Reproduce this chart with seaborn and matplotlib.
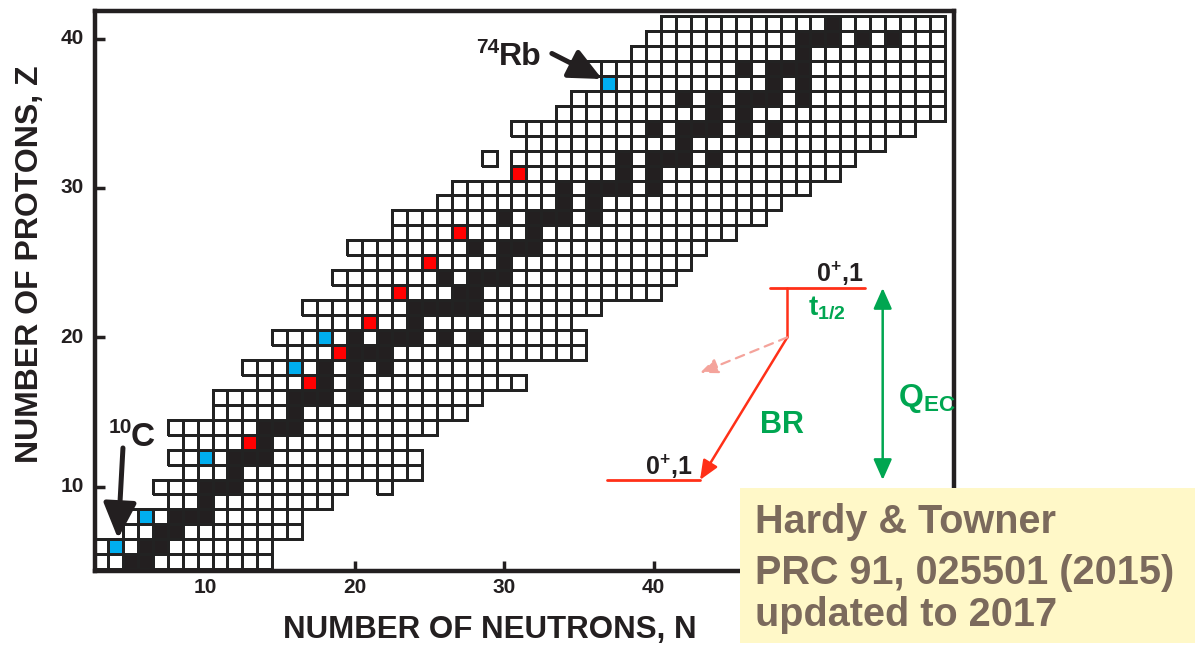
import numpy as np
import pandas as pd
import seaborn as sns
import matplotlib
matplotlib.use("Agg")
import matplotlib.pyplot as plt
from matplotlib.colors import ListedColormap, to_rgba
from matplotlib.patches import Rectangle, FancyArrowPatch

# ---------------- data ----------------
Z_values = list(range(5, 42))
N_first = [3, 3, 5, 5, 8, 7, 9, 8, 9, 8, 11, 11, 14, 13, 16, 15, 18, 17, 20, 19,
           21, 20, 23, 23, 26, 27, 31, 31, 32, 31, 34, 35, 37, 35, 39, 40, 41]
N_last = [14, 14, 16, 16, 18, 19, 24, 24, 23, 25, 27, 28, 31, 29, 35, 35, 34, 36, 40, 41,
          42, 43, 45, 47, 48, 50, 52, 53, 55, 57, 59, 59, 59, 59, 59, 59, 59]
extra_N = [22, 29]
extra_Z = [10, 32]

stable_N = {
    5: [5, 6], 6: [6, 7], 7: [7, 8], 8: [8, 9, 10], 9: [10], 10: [10, 11, 12],
    11: [12], 12: [12, 13, 14], 13: [14], 14: [14, 15, 16], 15: [16],
    16: [16, 17, 18, 20], 17: [18, 20], 18: [18, 20, 22], 19: [20, 21, 22],
    20: [20, 22, 23, 24, 26, 28], 21: [24], 22: [24, 25, 26, 27, 28], 23: [27, 28],
    24: [26, 28, 29, 30], 25: [30], 26: [28, 30, 31, 32], 27: [32],
    28: [30, 32, 33, 34, 36], 29: [34, 36], 30: [34, 36, 37, 38, 40], 31: [38, 40],
    32: [38, 40, 41, 42, 44], 33: [42], 34: [40, 42, 43, 44, 46, 48], 35: [44, 46],
    36: [42, 44, 46, 47, 48, 50], 37: [48, 50], 38: [46, 48, 49, 50], 39: [50],
    40: [50, 51, 52, 54, 56], 41: [52],
}
blue_N = [4, 6, 10, 16, 18, 37]
blue_Z = [6, 8, 12, 18, 20, 37]
red_N = [13, 17, 19, 21, 23, 25, 27, 31]
red_Z = [13, 17, 19, 21, 23, 25, 27, 31]

x_ticks = [10, 20, 30, 40]
y_ticks = [10, 20, 30, 40]
box_lines = ["Hardy & Towner", "PRC 91, 025501 (2015)", "updated to 2017"]

# ---------------- style ----------------
sns.set_theme(style="white")
plt.rcParams["font.family"] = ["Liberation Sans", "DejaVu Sans"]
plt.rcParams["mathtext.fontset"] = "custom"
for k in ["rm", "bf", "it", "sf"]:
    plt.rcParams["mathtext." + k] = "Liberation Sans:bold"
plt.rcParams["mathtext.default"] = "rm"

INK = "#231f20"
RED = "#ff3018"
GREEN = "#00a651"

# ---------------- grid ----------------
N_axis = np.arange(0, 61)
Z_axis = np.arange(0, 43)
M = np.full((len(Z_axis), len(N_axis)), np.nan)
for z, a, b in zip(Z_values, N_first, N_last):
    M[z, a:b + 1] = 0
for n, z in zip(extra_N, extra_Z):
    M[z, n] = 0
for z, ns in stable_N.items():
    for n in ns:
        M[z, n] = 1
for n, z in zip(blue_N, blue_Z):
    M[z, n] = 2
for n, z in zip(red_N, red_Z):
    M[z, n] = 3
df = pd.DataFrame(M, index=Z_axis, columns=N_axis)

cmap = ListedColormap(["#ffffff", INK, "#00aeef", "#ff0000"])

fig = plt.figure(figsize=(12.01, 6.46), dpi=100)
ax = fig.add_axes([95 / 1201, 1 - 571 / 646, (954 - 95) / 1201, (571 - 11) / 646])
sns.heatmap(df, mask=df.isna(), cmap=cmap, vmin=-0.5, vmax=3.5, cbar=False,
            linewidths=1.05, linecolor="#222222", ax=ax)
# draw cell borders only for existing nuclides
mesh = ax.collections[0]
valid = ~np.isnan(M)
ec = np.zeros((M.size, 4))
ec[valid.ravel()] = to_rgba("#222222")
mesh.set_edgecolor(ec)

# heatmap cell for N spans [N, N+1]
def P(n, z):
    return (n + 0.5, z + 0.5)

ax.set_xlim(2.64 + 0.5, 60.1 + 0.5)
ax.set_ylim(4.38 + 0.5, 41.84 + 0.5)
ax.set_xticks([t + 0.5 for t in x_ticks])
ax.set_xticklabels([str(t) for t in x_ticks], rotation=0, fontsize=15, fontweight="bold", color=INK)
ax.set_yticks([t + 0.5 for t in y_ticks])
ax.set_yticklabels([str(t) for t in y_ticks], rotation=0, fontsize=15, fontweight="bold", color=INK)
ax.tick_params(axis="both", direction="in", length=7, width=2.5, color=INK, pad=5,
               bottom=True, left=True, top=False, right=False)
ax.tick_params(axis="y", pad=8)
ax.set_xlabel("")
ax.set_ylabel("")
for s in ax.spines.values():
    s.set_visible(True)
    s.set_linewidth(3.2)
    s.set_color(INK)
    s.set_zorder(5)

# ---------------- labels ----------------
fig.text(490 / 1201, 1 - 630 / 646, "NUMBER OF NEUTRONS, N", ha="center", va="center",
         fontsize=22.5, fontweight="bold", color=INK)
fig.text(30 / 1201, 1 - 264 / 646, "NUMBER OF PROTONS, Z", ha="center", va="center",
         rotation=90, fontsize=23, fontweight="bold", color=INK)

# 10C annotation
ax.text(*P(4.31, 14.01), "10", ha="center", va="center", fontsize=15, fontweight="bold", color=INK)
ax.text(*P(5.85, 13.34), "C", ha="center", va="center", fontsize=24, fontweight="bold", color=INK)
ax.add_patch(FancyArrowPatch(P(4.51, 12.61), P(4.18, 6.55),
                             arrowstyle="-|>,head_length=0.9,head_width=0.42",
                             mutation_scale=24, lw=3.6, color=INK, zorder=6,
                             shrinkA=0, shrinkB=0))
# 74Rb annotation
ax.text(*P(28.93, 39.43), "74", ha="center", va="center", fontsize=15, fontweight="bold", color=INK)
ax.text(*P(31.1, 38.76), "Rb", ha="center", va="center", fontsize=23, fontweight="bold", color=INK)
ax.add_patch(FancyArrowPatch(P(33.2, 39.0), P(36.56, 37.29),
                             arrowstyle="-|>,head_length=0.9,head_width=0.42",
                             mutation_scale=22, lw=3.6, color=INK, zorder=6,
                             shrinkA=0, shrinkB=0))

# ---------------- decay scheme ----------------
ax.plot([P(47.79, 0)[0], P(54.15, 0)[0]], [P(0, 23.29)[1]] * 2, color=RED, lw=2.0, zorder=6)
ax.plot([P(48.95, 0)[0]] * 2, [P(0, 23.29)[1], P(0, 20.01)[1]], color=RED, lw=1.8, zorder=6)
ax.plot([P(36.87, 0)[0], P(43.11, 0)[0]], [P(0, 10.47)[1]] * 2, color=RED, lw=2.0, zorder=6)
ax.add_patch(FancyArrowPatch(P(48.95, 20.01), P(43.11, 10.47),
                             arrowstyle="-|>,head_length=0.9,head_width=0.38",
                             mutation_scale=13, lw=1.8, color=RED, zorder=6,
                             shrinkA=0, shrinkB=0))
ax.add_patch(FancyArrowPatch(P(48.95, 20.01), P(43.11, 17.63),
                             arrowstyle="-|>,head_length=0.9,head_width=0.38",
                             mutation_scale=12, lw=1.6, color="#f4a39b", ls=(0, (4, 3)),
                             zorder=6, shrinkA=0, shrinkB=0))
ax.add_patch(FancyArrowPatch(P(55.33, 23.31), P(55.33, 10.47),
                             arrowstyle="<|-|>,head_length=0.9,head_width=0.4",
                             mutation_scale=14, lw=1.8, color=GREEN, zorder=6,
                             shrinkA=0, shrinkB=0))
ax.text(*P(54.0, 24.25), r"0$^{+}$,1", ha="right", va="center", fontsize=18,
        fontweight="bold", color=INK, zorder=7)
ax.text(*P(42.57, 11.34), r"0$^{+}$,1", ha="right", va="center", fontsize=18,
        fontweight="bold", color=INK, zorder=7)
ax.text(*P(50.33, 21.97), r"t$_{1/2}$", ha="left", va="center", fontsize=20,
        fontweight="bold", color=GREEN, zorder=7)
ax.text(*P(48.6, 14.15), "BR", ha="center", va="center", fontsize=22, fontweight="bold",
        color=GREEN, zorder=7)
ax.text(*P(56.35, 15.95), r"Q$_{EC}$", ha="left", va="center", fontsize=23,
        fontweight="bold", color=GREEN, zorder=7)

# ---------------- reference box ----------------
fig.add_artist(Rectangle((740 / 1201, 1 - 643 / 646), (1195 - 740) / 1201, (643 - 488) / 646,
                         transform=fig.transFigure, facecolor="#fff8c8", edgecolor="none", zorder=10))
for line, yc in zip(box_lines, [522, 573, 615]):
    fig.text(755 / 1201, 1 - yc / 646, line, ha="left", va="center", fontsize=28.5,
             fontweight="bold", color="#7b6a5c", zorder=11)

fig.savefig("out.png", dpi=100)
